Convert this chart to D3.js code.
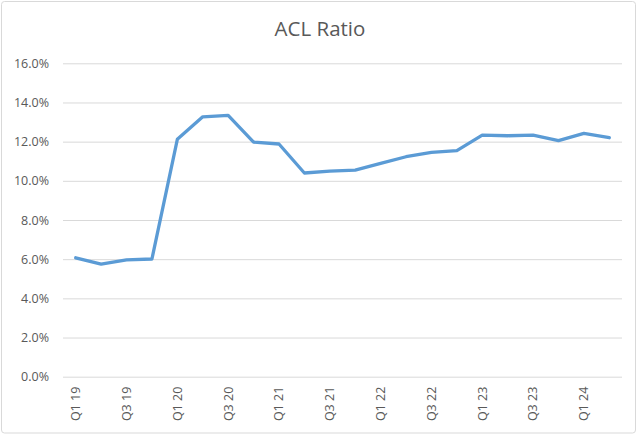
<!DOCTYPE html>
<html><head><meta charset="utf-8">
<script src="https://cdn.jsdelivr.net/npm/d3@7"></script>
<style>body{margin:0;background:#fff}svg{display:block}</style>
</head><body>
<svg id="c" width="640" height="435"></svg>
<script>
const quarters = ["Q1 19","Q2 19","Q3 19","Q4 19","Q1 20","Q2 20","Q3 20","Q4 20","Q1 21","Q2 21","Q3 21","Q4 21","Q1 22","Q2 22","Q3 22","Q4 22","Q1 23","Q2 23","Q3 23","Q4 23","Q1 24","Q2 24"];
const aclRatio = [6.07,5.75,5.96,6.01,12.12,13.27,13.34,11.98,11.88,10.40,10.50,10.55,10.89,11.23,11.45,11.54,12.33,12.30,12.33,12.05,12.42,12.20];
const yTicks = [0,2,4,6,8,10,12,14,16];
const title = "ACL Ratio";

const svg = d3.select("#c");
const W = 640, H = 435;
svg.append("rect").attr("x",1.5).attr("y",1.5).attr("width",W-6).attr("height",H-3.5)
  .attr("rx",3).attr("fill","#fff").attr("stroke","#d9d9d9").attr("stroke-width",1);

const x = d3.scaleBand().domain(quarters).range([63, 622]);
const y = d3.scaleLinear().domain([0,16]).range([376.7, 63.3]);
const font = "'Open Sans', 'Liberation Sans', sans-serif";

svg.append("text").attr("x",320).attr("y",36).attr("text-anchor","middle")
  .attr("font-family",font).attr("font-size",20.5).attr("fill","#595959").text(title);

const yAxis = d3.axisLeft(y).tickValues(yTicks).tickSize(-(622-63)).tickFormat(d=>d.toFixed(1)+"%");
const gy = svg.append("g").attr("transform","translate(63,0)").call(yAxis);
gy.select(".domain").remove();
gy.selectAll(".tick line").attr("stroke","#d9d9d9").attr("stroke-width",1);
gy.selectAll(".tick text").attr("x",-14).attr("font-family",font).attr("font-size",12.5).attr("fill","#595959");

const labels = quarters.filter((q,i)=>i%2===0);
const xAxis = d3.axisBottom(x).tickValues(labels).tickSize(0);
const gx = svg.append("g").attr("transform","translate(0,376.7)").call(xAxis);
gx.select(".domain").remove();
gx.selectAll(".tick text").attr("transform","rotate(-90)").attr("text-anchor","end")
  .attr("x",-10).attr("y",0).attr("dy","0.35em").attr("font-family",font).attr("font-size",12.5).attr("fill","#595959");

const line = d3.line().x((d,i)=>x(quarters[i])+x.bandwidth()/2).y(d=>y(d));
svg.append("path").datum(aclRatio).attr("d",line).attr("fill","none")
  .attr("stroke","#5b9bd5").attr("stroke-width",3.3).attr("stroke-linejoin","round").attr("stroke-linecap","round");
</script>
</body></html>
